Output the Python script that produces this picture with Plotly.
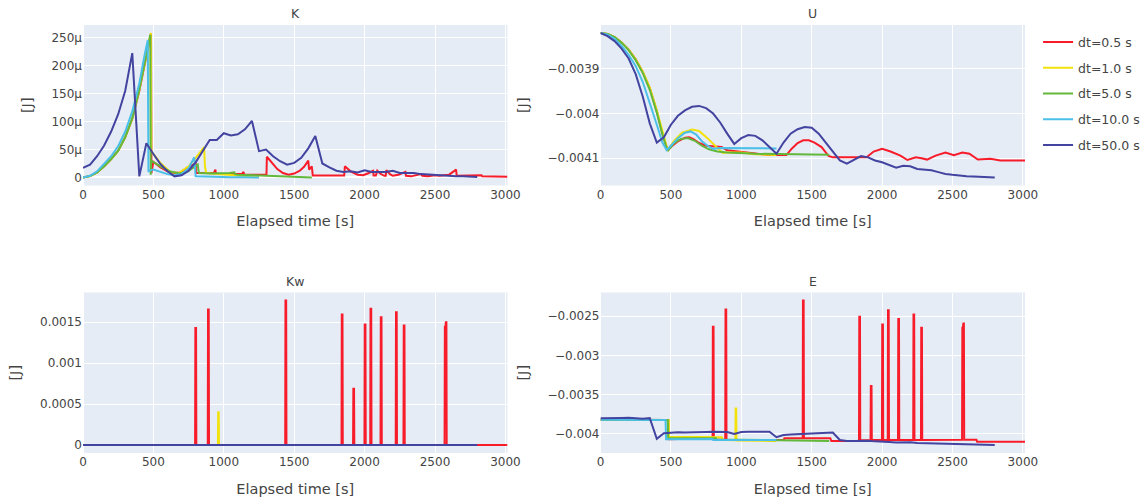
import plotly.graph_objects as go
from plotly.subplots import make_subplots

series_names = ["dt=0.5 s", "dt=1.0 s", "dt=5.0 s", "dt=10.0 s", "dt=50.0 s"]
series_colors = ["#f81c2a", "#f2e20a", "#62b83a", "#4bbfe8", "#4343a0"]
panel_titles = ["K", "U", "Kw", "E"]

# ---------------- K (kinetic energy) in microjoule ----------------
k_red_t = [0, 50, 100, 150, 200, 250, 300, 350, 400, 450, 475, 483, 486, 500, 550, 600, 650, 690, 740, 800, 803,
           930, 940, 945, 1130, 1140, 1145, 1303, 1306, 1340, 1380, 1420, 1460, 1500, 1540, 1570, 1600, 1606, 1625,
           1632, 1855, 1860, 1900, 1950, 1990, 2030, 2060, 2064, 2080, 2090, 2110, 2140, 2150, 2155, 2180, 2200,
           2240, 2290, 2294, 2330, 2370, 2400, 2410, 2450, 2500, 2530, 2600, 2650, 2654, 2790, 2830, 2835, 3015]
k_red_uJ = [0, 2.5, 9, 20, 33, 48, 72, 105, 155, 220, 248, 257, 8, 28, 18, 11, 8, 9, 17, 25, 8,
            8, 14, 6, 6, 10, 5, 5, 37, 26, 15, 8, 5, 7, 12, 19, 30, 14, 20,
            3.5, 3.5, 20, 11, 5, 4, 8, 12, 3.5, 3.5, 12, 7, 3, 3, 13, 6, 3,
            5, 10, 3, 2, 5, 6, 3, 2, 4, 3, 5, 14, 3, 3, 4, 2, 1.5]

k_yel_t = [0, 50, 100, 150, 200, 250, 300, 350, 400, 450, 470, 482, 485, 490, 550, 620, 680, 750, 800, 850,
           860, 866, 875, 950, 1000, 1100, 1200, 1250]
k_yel_uJ = [0, 2.5, 9, 20, 33, 48, 72, 106, 157, 222, 245, 258, 45, 45, 26, 10, 8, 20, 35, 52,
            54, 20, 8, 6, 5, 4, 2, 1]

k_grn_t = [0, 50, 100, 150, 200, 250, 300, 350, 400, 450, 478, 481, 485, 550, 615, 685, 740, 780, 815, 820,
           825, 900, 1000, 1040, 1075, 1080, 1100, 1200, 1300, 1400, 1500, 1625]
k_grn_uJ = [0, 2.5, 9, 20, 33, 48, 72, 106, 157, 222, 255, 5, 30, 20, 11, 7, 10, 17, 23, 12,
            8, 7, 7, 8, 9, 6, 5, 4, 3, 2, 1, 0]

k_cya_t = [0, 50, 100, 150, 200, 250, 300, 350, 400, 440, 460, 465, 470, 500, 550, 600, 650, 700, 750, 790,
           800, 850, 950, 1050, 1150, 1250]
k_cya_uJ = [0, 3, 11, 24, 38, 56, 82, 118, 168, 222, 245, 10, 12, 14, 10, 6, 4, 6, 16, 36,
            2, 1.5, 1, 0.5, 0.3, 0]

k_blu_t = [0, 50, 100, 150, 200, 250, 300, 350, 400, 450, 500, 550, 600, 650, 700, 750, 800, 850, 900, 950,
           1000, 1050, 1100, 1150, 1200, 1250, 1300, 1350, 1400, 1450, 1500, 1550, 1600, 1650, 1700, 1750, 1800,
           1850, 1900, 1950, 2000, 2050, 2100, 2150, 2200, 2250, 2300, 2350, 2400, 2450, 2500, 2550, 2600, 2650,
           2700, 2750, 2800]
k_blu_uJ = [17, 23, 38, 57, 82, 113, 155, 222, 2, 61, 42, 24, 11, 2, 4, 12, 27, 46, 67, 67,
            79, 75, 77, 86, 101, 47, 50, 38, 29, 23, 26, 35, 52, 74, 25, 18, 12,
            10, 11, 9, 13, 10, 10, 10, 12, 8, 8, 8, 6, 5, 4, 3, 3, 2,
            2, 1, 1]

# ---------------- U (potential energy) in joule ----------------
u_red_t = [0, 50, 100, 150, 200, 250, 300, 350, 400, 440, 470, 482, 500, 550, 600, 630, 660, 700, 750, 800,
           860, 900, 1000, 1100, 1200, 1320, 1360, 1400, 1440, 1480, 1520, 1570, 1620, 1650, 1750, 1890, 1940,
           2000, 2060, 2130, 2180, 2240, 2280, 2320, 2380, 2450, 2510, 2570, 2620, 2680, 2770, 2840, 3015]
u_red = [-0.00382, -0.003822, -0.003829, -0.003841, -0.003857, -0.003879, -0.003907, -0.003943, -0.003995,
         -0.004045, -0.004075, -0.004081, -0.004075, -0.004062, -0.004054, -0.004053, -0.004057, -0.004066,
         -0.004072, -0.004073, -0.004075, -0.004082, -0.004086, -0.00409, -0.004093, -0.004093, -0.004078,
         -0.004066, -0.00406, -0.00406, -0.004065, -0.004075, -0.004095, -0.004098, -0.004098, -0.004098,
         -0.004085, -0.004079, -0.004085, -0.004094, -0.004104, -0.004098, -0.0041, -0.004103, -0.004094,
         -0.004087, -0.004093, -0.004087, -0.00409, -0.004103, -0.004101, -0.004105, -0.004105]

u_yel_t = [0, 50, 100, 150, 200, 250, 300, 350, 400, 440, 470, 482, 520, 580, 650, 700, 760, 830, 870, 900,
           1000, 1100, 1200, 1250]
u_yel = [-0.00382, -0.003822, -0.003829, -0.003841, -0.003857, -0.003879, -0.003906, -0.003942, -0.003993,
         -0.004043, -0.004074, -0.004081, -0.004062, -0.004043, -0.004036, -0.004039, -0.004055, -0.004077,
         -0.004088, -0.004087, -0.004087, -0.004091, -0.004093, -0.004093]

u_grn_t = [0, 50, 100, 150, 200, 250, 300, 350, 400, 440, 470, 480, 520, 570, 620, 670, 720, 770, 830, 900,
           1100, 1300, 1625]
u_grn = [-0.00382, -0.003822, -0.003829, -0.003842, -0.003858, -0.003881, -0.003909, -0.003947, -0.003998,
         -0.004047, -0.004077, -0.004082, -0.004067, -0.004057, -0.004055, -0.004061, -0.004072, -0.00408,
         -0.004085, -0.004087, -0.00409, -0.004091, -0.004092]

u_cya_t = [0, 50, 100, 150, 200, 250, 300, 350, 400, 440, 470, 500, 550, 600, 640, 680, 720, 760, 800, 850,
           1000, 1250]
u_cya = [-0.00382, -0.003824, -0.003833, -0.003849, -0.003869, -0.003894, -0.003929, -0.003975, -0.004025,
         -0.004065, -0.004082, -0.004072, -0.004055, -0.004043, -0.00404, -0.004047, -0.004062, -0.004072,
         -0.004079, -0.004077, -0.004077, -0.004078]

u_blu_t = k_blu_t
u_blu = [-0.00382, -0.003827, -0.003838, -0.003855, -0.003877, -0.003912, -0.003962, -0.004022, -0.004065,
         -0.004053, -0.004025, -0.004005, -0.003993, -0.003985, -0.003983, -0.003988, -0.004, -0.00402,
         -0.004045, -0.004068, -0.004055, -0.004048, -0.00405, -0.00406, -0.004075, -0.00409, -0.004065,
         -0.004045, -0.004035, -0.00403, -0.004032, -0.004045, -0.004065, -0.004085, -0.004105, -0.004112,
         -0.004103, -0.004095, -0.004098, -0.004105, -0.004109, -0.004115, -0.004121, -0.004117, -0.004118,
         -0.004124, -0.004126, -0.004127, -0.004131, -0.004135, -0.004137, -0.004139, -0.00414, -0.004141,
         -0.004142, -0.004143, -0.004143]

# ---------------- Kw in joule ----------------
kw_red_t = [0, 796, 798, 803, 805, 886, 888, 893, 895, 1436, 1438, 1443, 1445, 1836, 1838, 1843, 1845,
            1918, 1920, 1925, 1927, 1999, 2001, 2006, 2008, 2040, 2042, 2047, 2049, 2113, 2115, 2120, 2122,
            2221, 2223, 2228, 2230, 2276, 2278, 2283, 2285, 2568, 2570, 2574, 2577, 2581, 2583, 3015]
kw_red = [0, 0, 0.001431, 0.001431, 0, 0, 0.001656, 0.001656, 0, 0, 0.001766, 0.001766, 0, 0, 0.001594, 0.001594, 0,
          0, 0.000687, 0.000687, 0, 0, 0.001472, 0.001472, 0, 0, 0.001664, 0.001664, 0, 0, 0.001562, 0.001562, 0,
          0, 0.001623, 0.001623, 0, 0, 0.00146, 0.00146, 0, 0, 0.001443, 0.001443, 0.0015, 0.0015, 0, 0]
kw_yel_t = [0, 958, 960, 964, 966, 1250]
kw_yel = [0, 0, 0.0004, 0.0004, 0, 0]
kw_grn_t = [0, 1625]
kw_grn = [0, 0]
kw_cya_t = [0, 1250]
kw_cya = [0, 0]
kw_blu_t = [0, 2800]
kw_blu = [0, 0]

# ---------------- E (total energy) in joule ----------------
e_red_t = [0, 482, 486, 600, 700, 796, 798, 803, 805, 886, 888, 893, 895, 1000, 1303, 1306, 1436, 1438, 1443,
           1445, 1632, 1640, 1836, 1838, 1843, 1845, 1870, 1918, 1920, 1925, 1927, 1999, 2001, 2006, 2008,
           2040, 2042, 2047, 2049, 2113, 2115, 2120, 2122, 2221, 2223, 2228, 2230, 2276, 2278, 2283, 2285,
           2568, 2570, 2574, 2577, 2581, 2583, 2670, 2675, 3015]
e_red = [-0.00382, -0.003823, -0.004068, -0.004062, -0.00406, -0.004058, -0.002636, -0.002636, -0.004075,
         -0.004076, -0.002415, -0.002415, -0.004078, -0.004078, -0.004079, -0.004056, -0.004055, -0.0023, -0.0023,
         -0.004055, -0.004055, -0.004092, -0.00409, -0.002508, -0.002508, -0.004082, -0.004078, -0.00408,
         -0.00339, -0.00339, -0.00408, -0.004079, -0.002606, -0.002606, -0.004079,
         -0.004079, -0.002424, -0.002424, -0.004079, -0.004078, -0.002534, -0.002534, -0.004078,
         -0.004077, -0.002479, -0.002479, -0.004077, -0.004077, -0.002648, -0.002648, -0.004077,
         -0.004076, -0.002648, -0.002648, -0.002593, -0.002593, -0.004076, -0.004076, -0.0041, -0.0041]

e_yel_t = [0, 484, 487, 600, 700, 862, 866, 958, 960, 964, 966, 1100, 1250]
e_yel = [-0.00382, -0.003823, -0.004037, -0.00404, -0.004041, -0.004042, -0.00408, -0.004082, -0.003678,
         -0.003678, -0.004084, -0.004088, -0.00409]

e_grn_t = [0, 478, 481, 600, 700, 820, 825, 1000, 1200, 1400, 1625]
e_grn = [-0.00382, -0.003822, -0.004052, -0.004053, -0.004054, -0.004055, -0.004072, -0.004077,
         -0.004082, -0.004087, -0.004091]

e_cya_t = [0, 462, 466, 600, 795, 800, 1000, 1250]
e_cya = [-0.00382, -0.003822, -0.004068, -0.004067, -0.004066, -0.004078, -0.004078, -0.004078]

e_blu_t = k_blu_t
e_blu = [-0.003802, -0.003803, -0.0038, -0.003798, -0.003795, -0.003799, -0.003807, -0.0038, -0.004063,
         -0.003992, -0.003983, -0.003981, -0.003982, -0.003983, -0.003979, -0.003976, -0.003973, -0.003974,
         -0.003978, -0.004001, -0.003976, -0.003973, -0.003973, -0.003974, -0.003974, -0.004043, -0.004015,
         -0.004008, -0.004004, -0.004, -0.003996, -0.003992, -0.003988, -0.003984, -0.004079, -0.004092,
         -0.004091, -0.004085, -0.004087, -0.004096, -0.004096, -0.004105, -0.004111, -0.004107, -0.004106,
         -0.004116, -0.004118, -0.004119, -0.004125, -0.00413, -0.004133, -0.004136, -0.004137, -0.004139,
         -0.00414, -0.004142, -0.004142]

MICRO = 1e-6
k_series = [(k_red_t, [v * MICRO for v in k_red_uJ]), (k_yel_t, [v * MICRO for v in k_yel_uJ]),
            (k_grn_t, [v * MICRO for v in k_grn_uJ]), (k_cya_t, [v * MICRO for v in k_cya_uJ]),
            (k_blu_t, [v * MICRO for v in k_blu_uJ])]
u_series = [(u_red_t, u_red), (u_yel_t, u_yel), (u_grn_t, u_grn), (u_cya_t, u_cya), (u_blu_t, u_blu)]
kw_series = [(kw_red_t, kw_red), (kw_yel_t, kw_yel), (kw_grn_t, kw_grn), (kw_cya_t, kw_cya), (kw_blu_t, kw_blu)]
e_series = [(e_red_t, e_red), (e_yel_t, e_yel), (e_grn_t, e_grn), (e_cya_t, e_cya), (e_blu_t, e_blu)]

panels = [(k_series, 1, 1), (u_series, 1, 2), (kw_series, 2, 1), (e_series, 2, 2)]

fig = make_subplots(rows=2, cols=2, subplot_titles=panel_titles,
                    horizontal_spacing=0.0987, vertical_spacing=0.25)

for p, (series, r, c) in enumerate(panels):
    for i, (t, v) in enumerate(series):
        assert len(t) == len(v), (p, i, len(t), len(v))
        fig.add_trace(go.Scatter(x=t, y=v, mode="lines", name=series_names[i],
                                 legendgroup=series_names[i], showlegend=(p == 0),
                                 line=dict(color=series_colors[i], width=2)), row=r, col=c)

fig.update_xaxes(title_text="Elapsed time [s]", title_font=dict(size=14.5), automargin=False,
                 tickfont=dict(size=12))
fig.update_yaxes(title_text="[J]", title_font=dict(size=14.5), automargin=False, tickfont=dict(size=12))
fig.update_yaxes(dtick=50e-6, tick0=0, row=1, col=1)
fig.update_annotations(font_size=12.5, yshift=2)

fig.update_layout(
    width=1145, height=497,
    margin=dict(l=83, r=120, t=25, b=44),
    font=dict(family="Verdana, DejaVu Sans, sans-serif", size=12, color="#444"),
    legend=dict(xref="container", yref="container", x=0.9066, y=0.945, xanchor="left", yanchor="top",
                tracegroupgap=6.5, font=dict(size=12.5)),
)

fig.write_html("out.html")
